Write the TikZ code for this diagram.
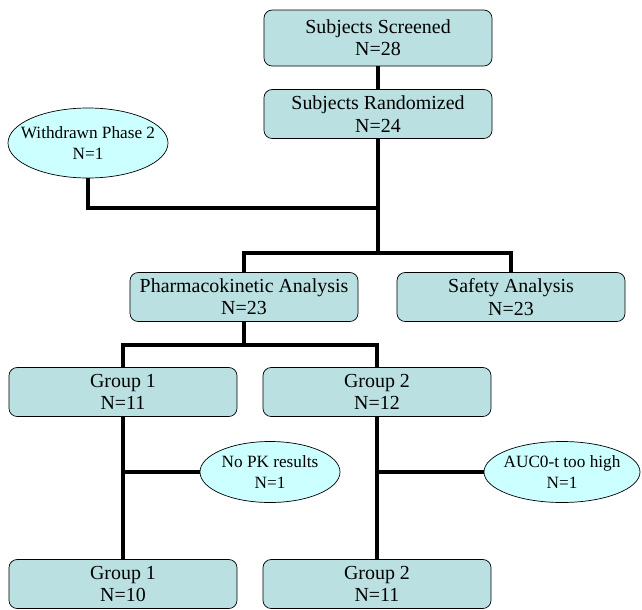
\documentclass[tikz,border=0pt]{standalone}
\usepackage{fontspec}
\setmainfont{Liberation Serif}
\usetikzlibrary{shapes.geometric}
\definecolor{boxfill}{RGB}{186,224,226}
\definecolor{ovalfill}{RGB}{204,255,255}

\begin{document}
\begin{tikzpicture}[x=0.03cm,y=-0.03cm,
    box/.style={draw,rounded corners=7pt,fill=boxfill,minimum width=6.84cm,
      minimum height=1.47cm,inner sep=0pt,align=center,line width=0.6pt,
      font=\fontsize{17}{19}\selectfont},
    oval/.style={ellipse,draw,fill=ovalfill,inner ysep=0pt,inner xsep=-0.32cm,
      align=center,line width=0.6pt,
      minimum height=1.83cm,font=\fontsize{14.7}{17.5}\selectfont},
    link/.style={line width=3.2pt}]
      \useasboundingbox (0,0) rectangle (642,609);
      % boxes
      \node[box,minimum height=1.68cm] (screened) at (378,38) {Subjects Screened\\N=28};
      \node[box] (randomized) at (378,114) {Subjects Randomized\\N=24};
      \node[oval,minimum width=4.8cm,minimum height=2.1cm] (withdrawn) at (88,143) {Withdrawn Phase 2\\N=1};
      \node[box] (pk) at (244,297) {Pharmacokinetic Analysis\\N=23};
      \node[box] (safety) at (511,297) {Safety Analysis\\N=23};
      \node[box] (grp1) at (123,392) {Group 1\\N=11};
      \node[box] (grp2) at (377,392) {Group 2\\N=12};
      \node[oval,minimum width=4.2cm] (nopk) at (270,472) {No PK results\\N=1};
      \node[oval,minimum width=4.68cm] (auc) at (562,472) {AUC0-t too high\\N=1};
      \node[box] (fin1) at (123,584) {Group 1\\N=10};
      \node[box] (fin2) at (377,584) {Group 2\\N=11};
      % connectors
      \coordinate (join) at (378,208);
      \coordinate (split) at (378,253);
      \coordinate (pksplit) at (244,345);
      \draw[link] (screened) -- (randomized);
      \draw[link] (randomized) -- (split);
      \draw[link] (withdrawn) |- (join);
      \draw[link] (pk) |- (split) -| (safety);
      \draw[link] (pk) -- (pksplit);
      \draw[link] (grp1) |- (pksplit) -| (grp2);
      \draw[link] (grp1) -- (fin1);
      \draw[link] (grp2) -- (fin2);
      \draw[link] (nopk) -- (grp1 |- nopk);
      \draw[link] (auc) -- (grp2 |- auc);
    \end{tikzpicture}
\end{document}
